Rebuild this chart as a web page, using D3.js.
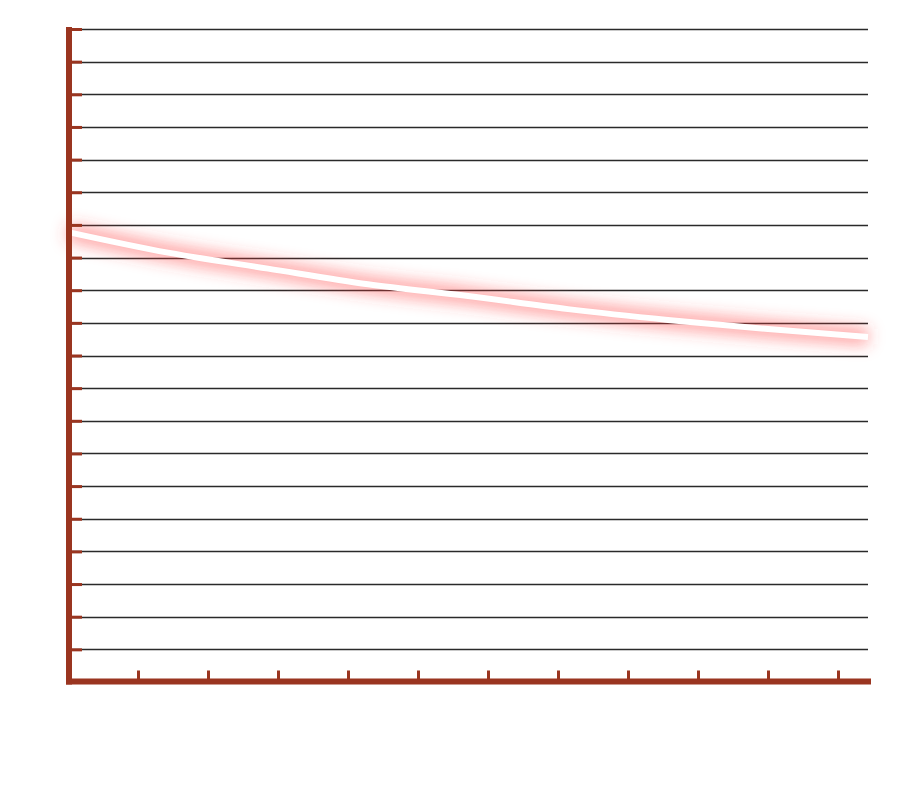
<!DOCTYPE html>
<html>
<head>
<meta charset="utf-8">
<script src="https://cdn.jsdelivr.net/npm/d3@7"></script>
<style>
  body { margin: 0; background: #fff; }
</style>
</head>
<body>
<div id="chart"></div>
<script>
// valeurs
var xValues = [0, 10, 20, 30, 40, 50, 60, 70, 80]
var yValues = [13.78, 13.15, 12.66, 12.18, 11.82, 11.42, 11.09, 10.81, 10.57]
var xTicks = [7, 14, 21, 28, 35, 42, 49, 56, 63, 70, 77]
var yTicks = d3.range(1, 21)

var width = 900
var height = 791
var axisColor = "#9a3520"

var svg = d3.select("#chart")
  .append("svg")
    .attr("width", width)
    .attr("height", height)

// échelles
var x = d3.scaleLinear().domain([0, 80]).range([68, 868])
var y = d3.scaleLinear().domain([0, 20]).range([682, 29])

// filtre pour le halo rouge
var defs = svg.append("defs")
var filter = defs.append("filter")
  .attr("id", "glow")
  .attr("x", "-10%").attr("y", "-100%")
  .attr("width", "120%").attr("height", "300%")
filter.append("feGaussianBlur").attr("stdDeviation", 8)

// lignes de grille
svg.append("g")
  .selectAll("line")
  .data(yTicks)
  .enter()
  .append("line")
    .attr("x1", 68)
    .attr("x2", 868)
    .attr("y1", function(d){ return Math.round(y(d)) + 0.5 })
    .attr("y2", function(d){ return Math.round(y(d)) + 0.5 })
    .attr("stroke", "#2a2a2a")
    .attr("stroke-width", 1.3)

var line = d3.line()
  .x(function(d){ return x(d[0]) })
  .y(function(d){ return y(d[1]) })
  .curve(d3.curveMonotoneX)

var points = xValues.map(function(d, i){ return [d, yValues[i]] })

// halo
svg.append("path")
  .datum(points)
  .attr("d", line)
  .attr("fill", "none")
  .attr("stroke", "#ff3b3b")
  .attr("stroke-opacity", 0.5)
  .attr("stroke-width", 16)
  .attr("filter", "url(#glow)")

// ligne blanche
svg.append("path")
  .datum(points)
  .attr("d", line)
  .attr("fill", "none")
  .attr("stroke", "#fff")
  .attr("stroke-width", 6)

// axe vertical
var yAxis = svg.append("g")
  .attr("transform", "translate(69,0)")
  .call(d3.axisLeft(y).tickValues(yTicks).tickSize(-13).tickFormat(""))
yAxis.select(".domain").remove()
yAxis.selectAll(".tick line")
  .attr("stroke", axisColor)
  .attr("stroke-width", 3)

// axe horizontal
var xAxis = svg.append("g")
  .attr("transform", "translate(0,681.5)")
  .call(d3.axisBottom(x).tickValues(xTicks).tickSize(-11).tickFormat(""))
xAxis.select(".domain").remove()
xAxis.selectAll(".tick line")
  .attr("stroke", axisColor)
  .attr("stroke-width", 3)

// traits des axes
svg.append("line")
  .attr("x1", 69).attr("x2", 69)
  .attr("y1", 27).attr("y2", 684.5)
  .attr("stroke", axisColor)
  .attr("stroke-width", 6)
svg.append("line")
  .attr("x1", 66).attr("x2", 871)
  .attr("y1", 681.5).attr("y2", 681.5)
  .attr("stroke", axisColor)
  .attr("stroke-width", 6)
</script>
</body>
</html>
